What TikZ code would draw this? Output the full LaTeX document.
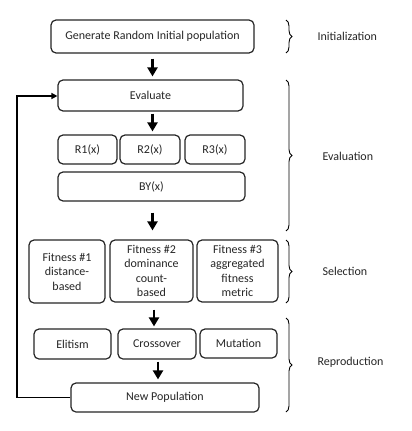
\documentclass[tikz,border=0pt]{standalone}
\usepackage{fontspec}
\setmainfont{Carlito}
\usetikzlibrary{arrows.meta,decorations.pathreplacing}
\begin{document}
\begin{tikzpicture}[x=1pt,y=-1pt,
  box/.style={draw=black!85,line width=1.2pt,rounded corners=5pt,inner sep=0pt,align=center,text=black!85,font=\fontsize{12}{14.5}\selectfont},
  flow/.style={line width=2.8pt,-{Triangle[width=10pt,length=9pt]}},
  fb/.style={line width=1.4pt,-{Triangle[width=6pt,length=6pt]}},
  brc/.style={decorate,decoration={brace,amplitude=6pt},line width=0.9pt},
  lbl/.style={font=\fontsize{12}{13}\selectfont,anchor=west,text=black!85}]
\useasboundingbox (0,0) rectangle (412,431);
\fill[white] (0,0) rectangle (412,431);
% nodes
\node[box,minimum width=203pt,minimum height=33pt] (gen) at (152.5,36.5) {Generate Random Initial population};
\node[box,minimum width=185pt,minimum height=31pt] (eval) at (150.5,95.5) {Evaluate};
\node[box,minimum width=59pt,minimum height=29pt] (r1) at (87.5,149.5) {R1(x)};
\node[box,minimum width=60pt,minimum height=29pt] (r2) at (150,149.5) {R2(x)};
\node[box,minimum width=60pt,minimum height=29pt] (r3) at (215,149.5) {R3(x)};
\node[box,minimum width=187pt,minimum height=29pt] (by) at (151.5,186.5) {BY(x)};
\node[box,minimum width=76pt,minimum height=63pt] (f1) at (67,271.5) {Fitness \#1\\distance-\\based};
\node[box,minimum width=83pt,minimum height=62pt] (f2) at (151.5,271) {Fitness \#2\\dominance\\count-\\based};
\node[box,minimum width=81pt,minimum height=62pt] (f3) at (237.5,271) {Fitness \#3\\aggregated\\fitness\\metric};
\node[box,minimum width=77pt,minimum height=30pt] (eli) at (72.5,344) {Elitism};
\node[box,minimum width=78pt,minimum height=30pt] (cro) at (157,344) {Crossover};
\node[box,minimum width=77pt,minimum height=29pt] (mut) at (238.5,343.5) {Mutation};
\node[box,minimum width=188pt,minimum height=29pt] (np) at (165,397.5) {New Population};
% flow arrows
\coordinate (xa) at (152.5,0);
\coordinate (xb) at (154,0);
\coordinate (xc) at (158,0);
\draw[flow,shorten <=5pt,shorten >=3pt] (gen.south -| xa) -- (eval.north -| xa);
\draw[flow,shorten <=2pt,shorten >=3pt] (eval.south -| xa) -- (r2.north -| xa);
\draw[flow,shorten <=11pt,shorten >=9pt] (by.south -| xa) -- (f2.north -| xa);
\draw[flow,shorten <=7pt,shorten >=2pt] (f2.south -| xb) -- (cro.north -| xb);
\draw[flow,shorten <=2pt,shorten >=3pt] (cro.south -| xc) -- (np.north -| xc);
% feedback
\coordinate (fbc1) at (17,397.5);
\coordinate (fbc2) at (17,96);
\draw[fb] (np.west) -- (fbc1) -- (fbc2) -- (eval.west|-fbc2);
% braces
\coordinate (b1t) at (286,20); \coordinate (b1b) at (286,53);
\coordinate (b2t) at (286,80); \coordinate (b2b) at (286,231);
\coordinate (b3t) at (286,240); \coordinate (b3b) at (286,303);
\coordinate (b4t) at (286,318); \coordinate (b4b) at (286,412);
\draw[brc] (b1t) -- (b1b);
\draw[brc] (b2t) -- (b2b);
\draw[brc] (b3t) -- (b3b);
\draw[brc] (b4t) -- (b4b);
\node[lbl] (l1) at (314,36.5) {Initialization};
\node[lbl] (l2) at (319,156) {Evaluation};
\node[lbl] (l3) at (319,271) {Selection};
\node[lbl] (l4) at (314,362) {Reproduction};
\end{tikzpicture}
\end{document}
